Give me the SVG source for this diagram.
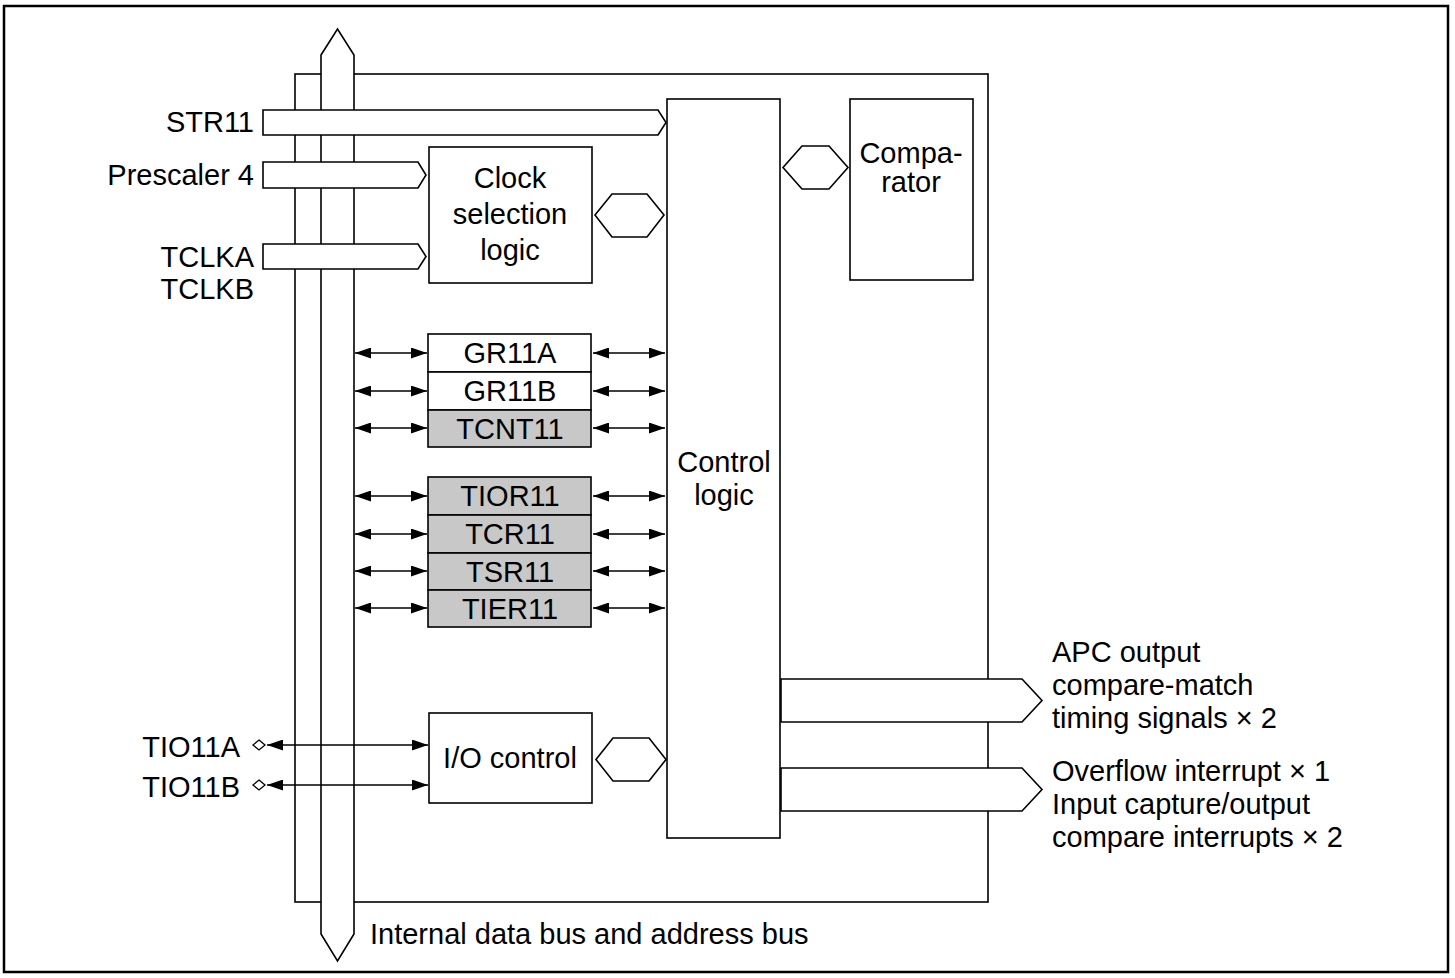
<svg xmlns="http://www.w3.org/2000/svg" width="1455" height="978" viewBox="0 0 1455 978">
<style>
.ln{fill:none;stroke:#000;stroke-width:1.6}
.bx{fill:#fff;stroke:#000;stroke-width:1.6}
.gr{fill:#c8c8c8;stroke:#000;stroke-width:1.6}
.th{fill:none;stroke:#000;stroke-width:1.3}
text{font-family:"Liberation Sans",Arial,sans-serif;font-size:29px;fill:#000}
.m{text-anchor:middle}
.e{text-anchor:end}
</style>
<defs>
<marker id="ah" markerUnits="userSpaceOnUse" markerWidth="16" markerHeight="11" refX="16" refY="5.5" orient="auto-start-reverse">
<path d="M0,0 L16,5.5 L0,11 z" fill="#000"/>
</marker>
</defs>
<rect x="0" y="0" width="1455" height="978" fill="#fff"/>
<rect id="border" x="4" y="6" width="1444" height="966" fill="none" stroke="#000" stroke-width="2.5"/>
<g id="frame"><rect class="bx" x="295" y="74" width="693" height="828"/></g>
<g id="bus">
<polygon class="bx" points="321,55 337.5,29 354,55 354,934 337.5,961 321,934"/>
<text x="370" y="944">Internal data bus and address bus</text>
</g>
<g id="inputs">
<polygon class="bx" points="263,110 658,110 666,122.5 658,135 263,135"/>
<text class="e" x="254" y="132">STR11</text>
<polygon class="bx" points="263,162 418,162 426,175 418,188 263,188"/>
<text class="e" x="254" y="185">Prescaler 4</text>
<polygon class="bx" points="263,244 418,244 426,256.5 418,269 263,269"/>
<text class="e" x="254" y="267">TCLKA</text>
<text class="e" x="254" y="299">TCLKB</text>
</g>
<g id="clock">
<rect class="bx" x="429" y="147" width="163" height="136"/>
<text class="m" x="510" y="188">Clock</text>
<text class="m" x="510" y="224">selection</text>
<text class="m" x="510" y="260">logic</text>
</g>
<g id="control">
<rect class="bx" x="667" y="99" width="113" height="739"/>
<text class="m" x="724" y="472">Control</text>
<text class="m" x="724" y="505">logic</text>
</g>
<g id="comparator">
<rect class="bx" x="850" y="99" width="123" height="181"/>
<text class="m" x="911" y="163">Compa-</text>
<text class="m" x="911" y="192">rator</text>
</g>
<g id="regs1">
<rect class="bx" x="428" y="334" width="163" height="38"/>
<text class="m" x="510" y="363">GR11A</text>
<rect class="bx" x="428" y="372" width="163" height="38"/>
<text class="m" x="510" y="401">GR11B</text>
<rect class="gr" x="428" y="410" width="163" height="37"/>
<text class="m" x="510" y="439">TCNT11</text>
</g>
<g id="regs2">
<rect class="gr" x="428" y="477" width="163" height="38"/>
<text class="m" x="510" y="506">TIOR11</text>
<rect class="gr" x="428" y="515" width="163" height="38"/>
<text class="m" x="510" y="544">TCR11</text>
<rect class="gr" x="428" y="553" width="163" height="37"/>
<text class="m" x="510" y="582">TSR11</text>
<rect class="gr" x="428" y="590" width="163" height="37"/>
<text class="m" x="510" y="619">TIER11</text>
</g>
<g id="io">
<rect class="bx" x="429" y="713" width="163" height="90"/>
<text class="m" x="510" y="768">I/O control</text>
</g>
<g id="outputs">
<polygon class="bx" points="781,679 1022,679 1042,700.5 1022,722 781,722"/>
<polygon class="bx" points="781,768 1022,768 1042,789.5 1022,811 781,811"/>
<text x="1052" y="662">APC output</text>
<text x="1052" y="695">compare-match</text>
<text x="1052" y="728">timing signals × 2</text>
<text x="1052" y="781">Overflow interrupt × 1</text>
<text x="1052" y="814">Input capture/output</text>
<text x="1052" y="847">compare interrupts × 2</text>
</g>
<g id="connectors">
<polygon class="bx" points="595,215 612,194 647,194 664,215 647,237 612,237"/>
<polygon class="bx" points="783,167.5 802,146 829,146 848,167.5 829,189 802,189"/>
<polygon class="bx" points="596,759.5 613,738 649,738 666,759.5 649,781 613,781"/>
<g class="th" marker-start="url(#ah)" marker-end="url(#ah)">
<line x1="355" y1="353" x2="427" y2="353"/>
<line x1="355" y1="391" x2="427" y2="391"/>
<line x1="355" y1="428" x2="427" y2="428"/>
<line x1="355" y1="496" x2="427" y2="496"/>
<line x1="355" y1="534" x2="427" y2="534"/>
<line x1="355" y1="571" x2="427" y2="571"/>
<line x1="355" y1="608" x2="427" y2="608"/>
<line x1="593" y1="353" x2="665" y2="353"/>
<line x1="593" y1="391" x2="665" y2="391"/>
<line x1="593" y1="428" x2="665" y2="428"/>
<line x1="593" y1="496" x2="665" y2="496"/>
<line x1="593" y1="534" x2="665" y2="534"/>
<line x1="593" y1="571" x2="665" y2="571"/>
<line x1="593" y1="608" x2="665" y2="608"/>
<line x1="267" y1="745" x2="428" y2="745"/>
<line x1="267" y1="785" x2="428" y2="785"/>
</g>
<polygon points="259,740 265,745 259,750 253,745" fill="#fff" stroke="#000" stroke-width="1.3"/>
<polygon points="259,780 265,785 259,790 253,785" fill="#fff" stroke="#000" stroke-width="1.3"/>
</g>
<text class="e" x="240" y="757">TIO11A</text>
<text class="e" x="240" y="797">TIO11B</text>
</svg>
